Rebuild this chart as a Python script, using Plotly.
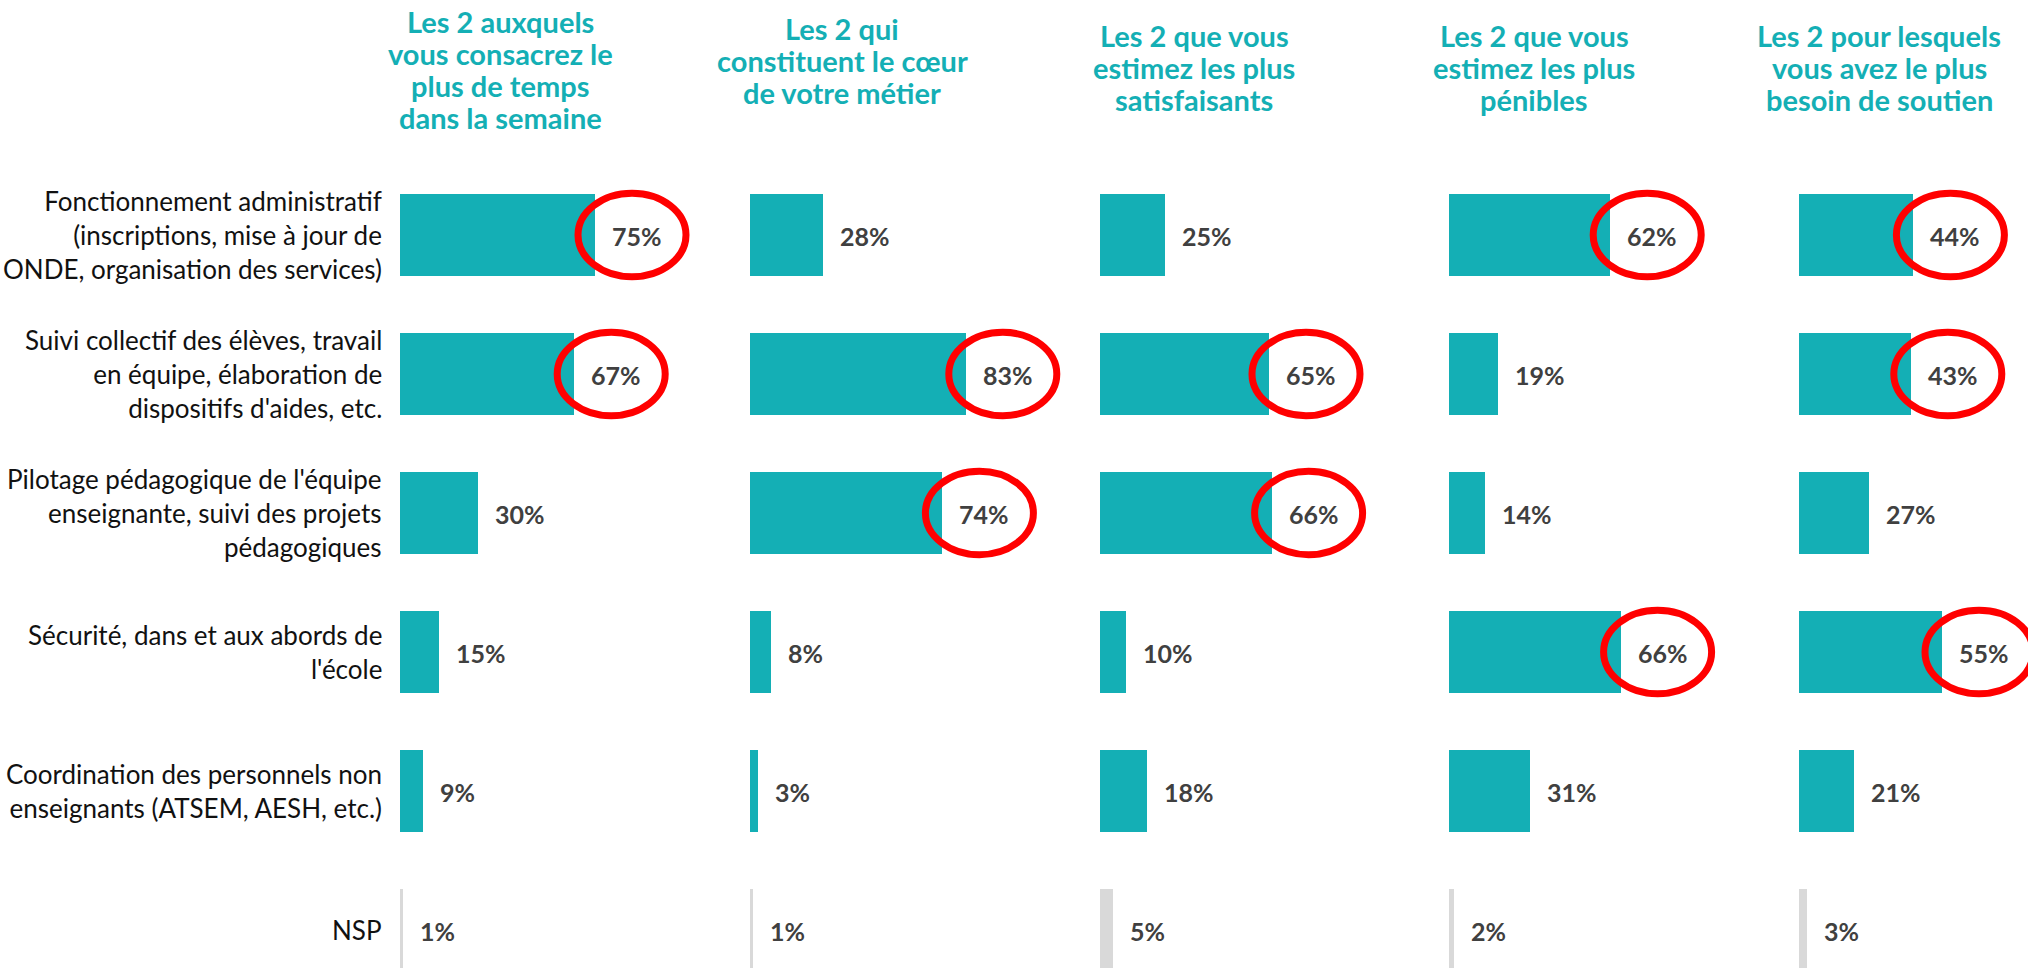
import plotly.graph_objects as go
from plotly.subplots import make_subplots

# ---------------- data ----------------
categories = [
    "Fonctionnement administratif<br>(inscriptions, mise à jour de<br>ONDE, organisation des services)",
    "Suivi collectif des élèves, travail<br>en équipe, élaboration de<br>dispositifs d'aides, etc.",
    "Pilotage pédagogique de l'équipe<br>enseignante, suivi des projets<br>pédagogiques",
    "Sécurité, dans et aux abords de<br>l'école",
    "Coordination des personnels non<br>enseignants (ATSEM, AESH, etc.)",
    "NSP",
]
panel_titles = [
    ["Les 2 auxquels", "vous consacrez le", "plus de temps", "dans la semaine"],
    ["Les 2 qui", "constituent le cœur", "de votre métier"],
    ["Les 2 que vous", "estimez les plus", "satisfaisants"],
    ["Les 2 que vous", "estimez les plus", "pénibles"],
    ["Les 2 pour lesquels", "vous avez le plus", "besoin de soutien"],
]
temps = [75, 67, 30, 15, 9, 1]
coeur = [28, 83, 74, 8, 3, 1]
satisfaisants = [25, 65, 66, 10, 18, 5]
penibles = [62, 19, 14, 66, 31, 2]
soutien = [44, 43, 27, 55, 21, 3]
series = [temps, coeur, satisfaisants, penibles, soutien]
# indices of highlighted (circled) answers per panel
highlighted = [[0, 1], [1, 2], [1, 2], [0, 3], [0, 1, 3]]

# ---------------- layout constants ----------------
W, H = 2028, 968
L = 400
plot_w = W - L
panel_start_px = [400, 750, 1100, 1449, 1799]
px_per_pct = 2.6
title_center_px = [500, 842, 1194, 1534, 1879]
title_first_line_py = [22, 28, 36, 36, 36]
title_line_step = 32

TEAL = "#14AFB5"
GREY = "#D9D9D9"
RED = "#FF0000"
TXT = "#404040"
FONT = "Lato"

row_px0, row_step = 235, 139
y_top = -row_px0 / row_step
y_bot = y_top + H / row_step

fig = make_subplots(rows=1, cols=5, shared_yaxes=True, horizontal_spacing=0)

ypos = list(range(len(categories)))
annotations = []
shapes = []

for k, vals in enumerate(series):
    col = k + 1
    xname = "x" if k == 0 else f"x{col}"
    colors = [TEAL] * (len(vals) - 1) + [GREY]
    fig.add_trace(
        go.Bar(
            x=vals, y=ypos, orientation="h", width=0.583,
            marker=dict(color=colors, line=dict(width=0)),
            hoverinfo="skip", showlegend=False,
        ),
        row=1, col=col,
    )
    start = panel_start_px[k]
    end = panel_start_px[k + 1] if k + 1 < len(panel_start_px) else W
    d0 = (start - L) / plot_w
    d1 = (end - L) / plot_w
    xr = (end - start) / px_per_pct
    axkey = "xaxis" if k == 0 else f"xaxis{col}"
    fig.layout[axkey].update(domain=[d0, d1], range=[0, xr], showgrid=False,
                             zeroline=False, showticklabels=False, showline=False,
                             fixedrange=True)

    for i, v in enumerate(vals):
        annotations.append(dict(
            x=v, y=i, xref=xname, yref="y", text=f"{v}%", showarrow=False,
            xanchor="left", yanchor="middle", xshift=15, yshift=-1,
            font=dict(family=FONT, size=25, color=TXT, weight="bold"),
        ))
    off = 37 / px_per_pct
    rx = 54 / px_per_pct
    ry = 0.30
    for i in highlighted[k]:
        v = vals[i]
        shapes.append(dict(
            type="circle", xref=xname, yref="y",
            x0=v + off - rx, x1=v + off + rx, y0=i - ry, y1=i + ry,
            line=dict(color=RED, width=7), fillcolor="rgba(0,0,0,0)", layer="above",
        ))

    for j, line in enumerate(panel_titles[k]):
        py = title_first_line_py[k] + j * title_line_step
        annotations.append(dict(
            x=(title_center_px[k] - L) / plot_w, y=1 - py / H,
            xref="paper", yref="paper", text=line, showarrow=False,
            xanchor="center", yanchor="middle", align="center",
            font=dict(family=FONT, size=29, color=TEAL, weight="bold"),
        ))

# category labels (left of first panel)
for i, c in enumerate(categories):
    annotations.append(dict(
        x=0, y=i, xref="x", yref="y", text=c, showarrow=False,
        xanchor="right", yanchor="middle", align="right", xshift=-16,
        font=dict(family=FONT, size=26, color="#111111"),
    ))

fig.update_yaxes(range=[y_bot, y_top], showgrid=False, zeroline=False,
                 showticklabels=False, showline=False, fixedrange=True)

fig.update_layout(
    width=W, height=H,
    margin=dict(l=L, r=0, t=0, b=0),
    paper_bgcolor="white", plot_bgcolor="white",
    bargap=0, annotations=annotations, shapes=shapes,
    font=dict(family=FONT),
)

fig.write_html(
    "out.html",
    config={"displayModeBar": False},
    post_script="document.body.style.margin='0px';document.body.style.overflow='hidden';",
)
